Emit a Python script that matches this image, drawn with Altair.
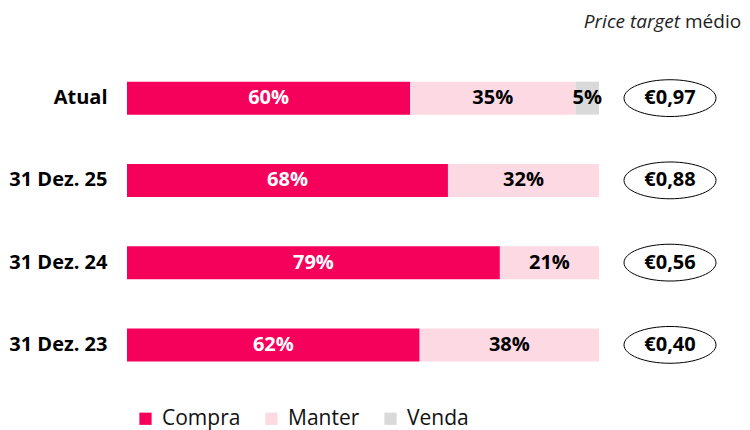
import altair as alt
import pandas as pd

# data
periods = ["Atual", "31 Dez. 25", "31 Dez. 24", "31 Dez. 23"]
compra = [60, 68, 79, 62]
manter = [35, 32, 21, 38]
venda = [5, 0, 0, 0]
price_targets = ["€0,97", "€0,88", "€0,56", "€0,40"]

categories = ["Compra", "Manter", "Venda"]
colors = ["#F5005A", "#FDD9E3", "#D9D9D9"]
label_colors = {"Compra": "white", "Manter": "black", "Venda": "black"}

FONT = "Open Sans"

# long table with stacked start / end for each segment
rows = []
for p, c, m, v in zip(periods, compra, manter, venda):
    start = 0
    for cat, val in zip(categories, [c, m, v]):
        if val > 0:
            rows.append({"period": p, "cat": cat, "pct": val,
                         "start": start, "end": start + val,
                         "mid": start + val / 2, "label": f"{val}%",
                         "label_color": label_colors[cat]})
        start += val
bars_df = pd.DataFrame(rows)
price_df = pd.DataFrame({"period": periods, "price": price_targets})

y_enc = alt.Y("period:N", sort=periods, title=None,
              scale=alt.Scale(paddingInner=0, paddingOuter=0),
              axis=alt.Axis(domain=False, ticks=False, labelPadding=20,
                            labelFont=FONT, labelFontSize=20,
                            labelFontWeight="bold", labelColor="black"))

bars = alt.Chart(bars_df).mark_bar(size=33).encode(
    x=alt.X("start:Q", scale=alt.Scale(domain=[0, 100], nice=False),
            axis=None),
    x2="end:Q",
    y=y_enc,
    color=alt.Color(
        "cat:N",
        scale=alt.Scale(domain=categories, range=colors),
        legend=alt.Legend(
            title=None, orient="none", direction="horizontal",
            legendX=8, legendY=351, symbolType="square", symbolSize=150,
            symbolStrokeWidth=0, labelFont=FONT, labelFontSize=21,
            labelColor="#111", columnPadding=20, labelOffset=6
        )
    )
)

labels = alt.Chart(bars_df).mark_text(
    font=FONT, fontSize=20, fontWeight="bold"
).encode(
    x="mid:Q",
    y=alt.Y("period:N", sort=periods),
    text="label:N",
    color=alt.Color("label_color:N", scale=None)
)

ellipse_path = "M -1 0 A 1 0.4 0 1 1 1 0 A 1 0.4 0 1 1 -1 0 Z"
ellipses = alt.Chart(price_df).mark_point(
    shape=ellipse_path, size=92 * 92, filled=False,
    stroke="black", strokeWidth=1, opacity=1
).encode(
    x=alt.value(543),
    y=alt.Y("period:N", sort=periods)
)

prices = alt.Chart(price_df).mark_text(
    font=FONT, fontSize=20, fontWeight="bold", color="black"
).encode(
    x=alt.value(543),
    y=alt.Y("period:N", sort=periods),
    text="price:N"
)

title_df = pd.DataFrame({"a": ["Price target"], "b": ["médio"]})
title_italic = alt.Chart(title_df).mark_text(
    font=FONT, fontSize=19, fontStyle="italic", align="right",
    baseline="alphabetic", color="#222"
).encode(x=alt.value(553), y=alt.value(-29), text="a:N")
title_plain = alt.Chart(title_df).mark_text(
    font=FONT, fontSize=19, align="left", baseline="alphabetic",
    color="#222"
).encode(x=alt.value(558), y=alt.value(-29), text="b:N")

chart = alt.layer(
    bars, labels, ellipses, prices, title_italic, title_plain
).properties(
    width=472, height=329,
    autosize=alt.AutoSizeParams(type="none"),
    padding={"left": 119, "top": 49, "right": 143, "bottom": 44}
).configure_view(stroke=None)

chart.save("out.html", embed_options={"renderer": "svg", "actions": False})
